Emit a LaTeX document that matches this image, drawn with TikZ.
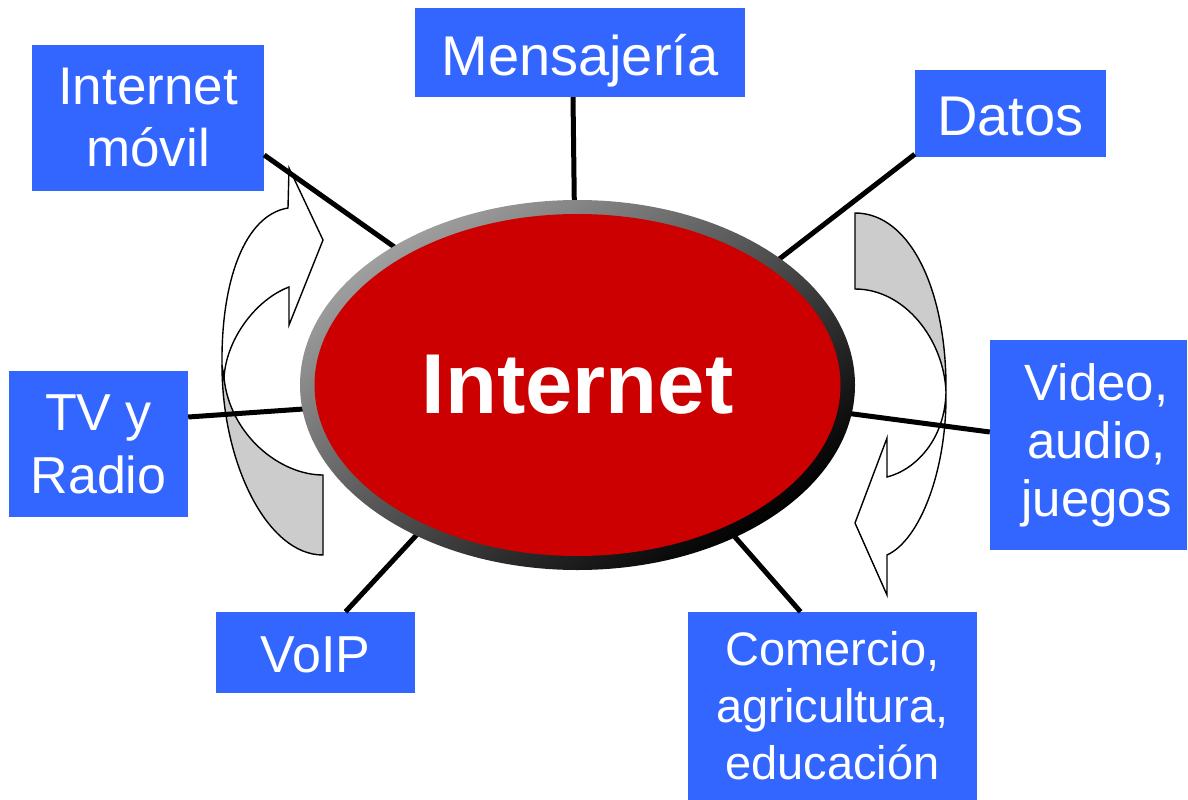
\documentclass[tikz,border=0pt]{standalone}
\usepackage{fontspec}
\setmainfont{Liberation Sans}
\usetikzlibrary{shapes.geometric}
\definecolor{boxblue}{RGB}{51,102,255}
\definecolor{netred}{RGB}{204,0,0}
\definecolor{arrowgray}{RGB}{204,204,204}
\definecolor{rimgray}{RGB}{160,160,160}
\begin{document}
\begin{tikzpicture}[x=1pt,y=-1pt,
  box/.style={fill=boxblue,text=white,inner sep=0pt,align=center},
  oneline/.style={text height=#1,text depth=0pt},
  link/.style={line width=5pt,draw=black,shorten >=-8pt},
  arrowline/.style={draw=black,line width=1.4pt,line join=miter}]
\useasboundingbox[fill=white] (0,0) rectangle (1188,800);

% curved arrow on the left (pointing up-right)
\draw[arrowline,fill=arrowgray] (222,365) .. controls (222,463) and (267,555) .. (323,555)
  -- (323,475) .. controls (280,475) and (230,435) .. (224,378) -- cycle;
\draw[arrowline,fill=white] (222,365) .. controls (221,280) and (245,215) .. (288,208)
  -- (289,168) -- (323,240) -- (289,325) -- (289,287)
  .. controls (255,300) and (226,340) .. (224,378) -- cycle;

% curved arrow on the right (pointing down-left)
\draw[arrowline,fill=arrowgray] (855,213) .. controls (910,213) and (947,290) .. (946,392)
  .. controls (944,340) and (905,289) .. (855,289) -- cycle;
\draw[arrowline,fill=white] (946,392) .. controls (947,470) and (920,540) .. (887,555)
  -- (887,595) -- (855,523) -- (887,438) -- (887,477)
  .. controls (915,470) and (945,440) .. (946,392) -- cycle;

% central ellipse (outline only, for anchors)
\node[ellipse,minimum width=555pt,minimum height=370pt,inner sep=0pt] (inet) at (577.5,385) {};

% boxes
\node[box,minimum width=232pt,minimum height=146pt,font=\fontsize{53}{62}\selectfont] (movil) at (148,118) {Internet\\móvil};
\node[box,oneline=46pt,minimum width=330pt,minimum height=89pt,font=\fontsize{56}{64}\selectfont] (mens) at (580,52.5) {Mensajería};
\node[box,oneline=43pt,minimum width=191pt,minimum height=87pt,font=\fontsize{56}{64}\selectfont] (datos) at (1010.5,113.5) {Datos};
\node[box,minimum width=179pt,minimum height=146pt,font=\fontsize{52}{63}\selectfont] (tv) at (98.5,444) {TV y\\Radio};
\node[box,minimum width=197pt,minimum height=210pt,font=\fontsize{51}{58}\selectfont] (video) at (1088.5,445) {\hspace*{16pt}Video,\\\hspace*{16pt}audio,\\\hspace*{16pt}juegos};
\node[box,oneline=39pt,minimum width=199pt,minimum height=81pt,font=\fontsize{52}{60}\selectfont] (voip) at (315.5,652.5) {VoIP};
\node[box,minimum width=289pt,minimum height=188pt,font=\fontsize{47}{57}\selectfont] (comercio) at (832.5,706) {Comercio,\\agricultura,\\educación};

% connectors
\draw[link] ([yshift=-37pt]movil.east) -- (inet.143);
\draw[link] ([xshift=-7pt]mens.south) -- (inet.91);
\draw[link] ([yshift=3pt]datos.south west) -- (inet.32);
\draw[link] ([yshift=27pt]tv.east) -- (inet.185);
\draw[link] ([yshift=13pt]video.west) -- (inet.354);
\draw[link] ([xshift=30pt]voip.north) -- (inet.223);
\draw[link] ([xshift=-32pt]comercio.north) -- (inet.316);

% ellipse drawing
\shade[top color=rimgray,bottom color=black,shading angle=35] (inet.center) ellipse [x radius=277.5pt,y radius=185pt];
\node[ellipse,fill=netred,minimum width=526pt,minimum height=342pt,inner sep=0pt,text=white,
  font=\fontsize{85}{90}\selectfont\bfseries] (core) at (inet.center) {Internet};
\end{tikzpicture}
\end{document}
